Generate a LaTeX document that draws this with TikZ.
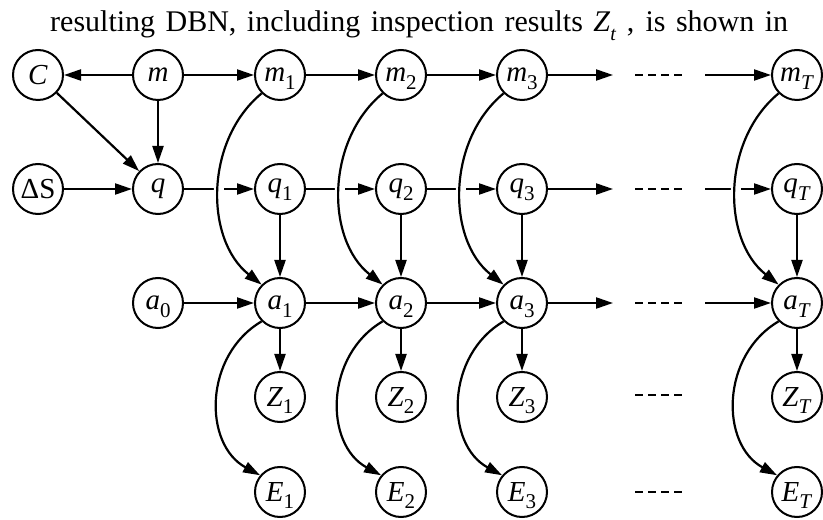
\documentclass[tikz,border=0pt]{standalone}
\usepackage{fontspec}
\setmainfont{Liberation Serif}
\usetikzlibrary{arrows.meta}
\pgfdeclarelayer{bg}
\pgfsetlayers{bg,main}
\newcommand{\lbl}[2]{\textit{#1}\smash{\raisebox{-7.5pt}{\fontsize{21}{21}\selectfont #2}}}
\begin{document}
\begin{tikzpicture}[x=1pt,y=1pt,
  nd/.style={circle,draw,line width=2pt,minimum size=50pt,inner sep=0pt,fill=white,font=\fontsize{29}{29}\selectfont},
  ar/.style={line width=2.2pt,-{Triangle[length=17pt,width=11pt]}},
  dots/.style={line width=2.2pt,dash pattern=on 8pt off 5pt},
  crv/.style={ar,preaction={draw,white,line width=10pt,-}}]
\useasboundingbox (0,0) rectangle (823,520);
\node[anchor=base west,inner sep=0pt,font=\fontsize{30}{30}\selectfont] (title) at (50,488)
  {\makebox[738pt][s]{resulting DBN, including inspection results \textit{Z}\smash{\raisebox{-0.3em}{\fontsize{20}{20}\selectfont\textit{t}}}\ , is shown in}};
% row m
\node[nd] (C) at (38,445) {\textit{C}};
\node[nd] (m) at (158,445) {\textit{m}};
\node[nd] (m1) at (280,445) {\lbl{m}{1}};
\node[nd] (m2) at (401,445) {\lbl{m}{2}};
\node[nd] (m3) at (522,445) {\lbl{m}{3}};
\node[nd] (mT) at (797,445) {\lbl{m}{\textit{T}}};
% row q
\node[nd] (DS) at (38,331) {ΔS};
\node[nd] (q) at (158,331) {\textit{q}};
\node[nd] (q1) at (280,331) {\lbl{q}{1}};
\node[nd] (q2) at (401,331) {\lbl{q}{2}};
\node[nd] (q3) at (522,331) {\lbl{q}{3}};
\node[nd] (qT) at (797,331) {\lbl{q}{\textit{T}}};
% row a
\node[nd] (a0) at (158,217) {\lbl{a}{0}};
\node[nd] (a1) at (280,217) {\lbl{a}{1}};
\node[nd] (a2) at (401,217) {\lbl{a}{2}};
\node[nd] (a3) at (522,217) {\lbl{a}{3}};
\node[nd] (aT) at (797,217) {\lbl{a}{\textit{T}}};
% row Z
\node[nd] (Z1) at (280,123) {\lbl{Z}{1}};
\node[nd] (Z2) at (401,123) {\lbl{Z}{2}};
\node[nd] (Z3) at (522,123) {\lbl{Z}{3}};
\node[nd] (ZT) at (797,123) {\lbl{Z}{\textit{T}}};
% row E
\node[nd] (E1) at (280,28) {\lbl{E}{1}};
\node[nd] (E2) at (401,28) {\lbl{E}{2}};
\node[nd] (E3) at (522,28) {\lbl{E}{3}};
\node[nd] (ET) at (797,28) {\lbl{E}{\textit{T}}};
% free ends
\foreach \r/\y in {m/445,q/331,a/217,z/125,e/28}{
  \coordinate (\r out) at (613,\y);
  \coordinate (\r in) at (705,\y);
  \coordinate (\r d1) at (635,\y);
  \coordinate (\r d2) at (682,\y);
}
\begin{pgfonlayer}{bg}
\draw[ar] (m) -- (C);
\draw[ar] (m) -- (m1);
\draw[ar] (m1) -- (m2);
\draw[ar] (m2) -- (m3);
\draw[ar] (m3) -- (mout);
\draw[ar] (min) -- (mT);
\draw[ar] (m) -- (q);
\draw[ar] (C) -- (q);
\draw[ar] (DS) -- (q);
\draw[ar] (q) -- (q1);
\draw[ar] (q1) -- (q2);
\draw[ar] (q2) -- (q3);
\draw[ar] (q3) -- (qout);
\draw[ar] (qin) -- (qT);
\draw[ar] (a0) -- (a1);
\draw[ar] (a1) -- (a2);
\draw[ar] (a2) -- (a3);
\draw[ar] (a3) -- (aout);
\draw[ar] (ain) -- (aT);
\foreach \i in {1,2,3,T}{
  \draw[ar] (q\i) -- (a\i);
  \draw[ar] (a\i) -- (Z\i);
}
\foreach \r in {m,q,a,z,e}{
  \draw[dots] (\r d1) -- (\r d2);
}
\foreach \i in {1,2,3,T}{
  \draw[crv] (m\i.225) .. controls +(-57,-47) and +(-57,45) .. (a\i.135);
  \draw[crv] (a\i.225) .. controls +(-58,-34) and +(-57,31) .. (E\i.140);
}
\end{pgfonlayer}
\end{tikzpicture}
\end{document}
